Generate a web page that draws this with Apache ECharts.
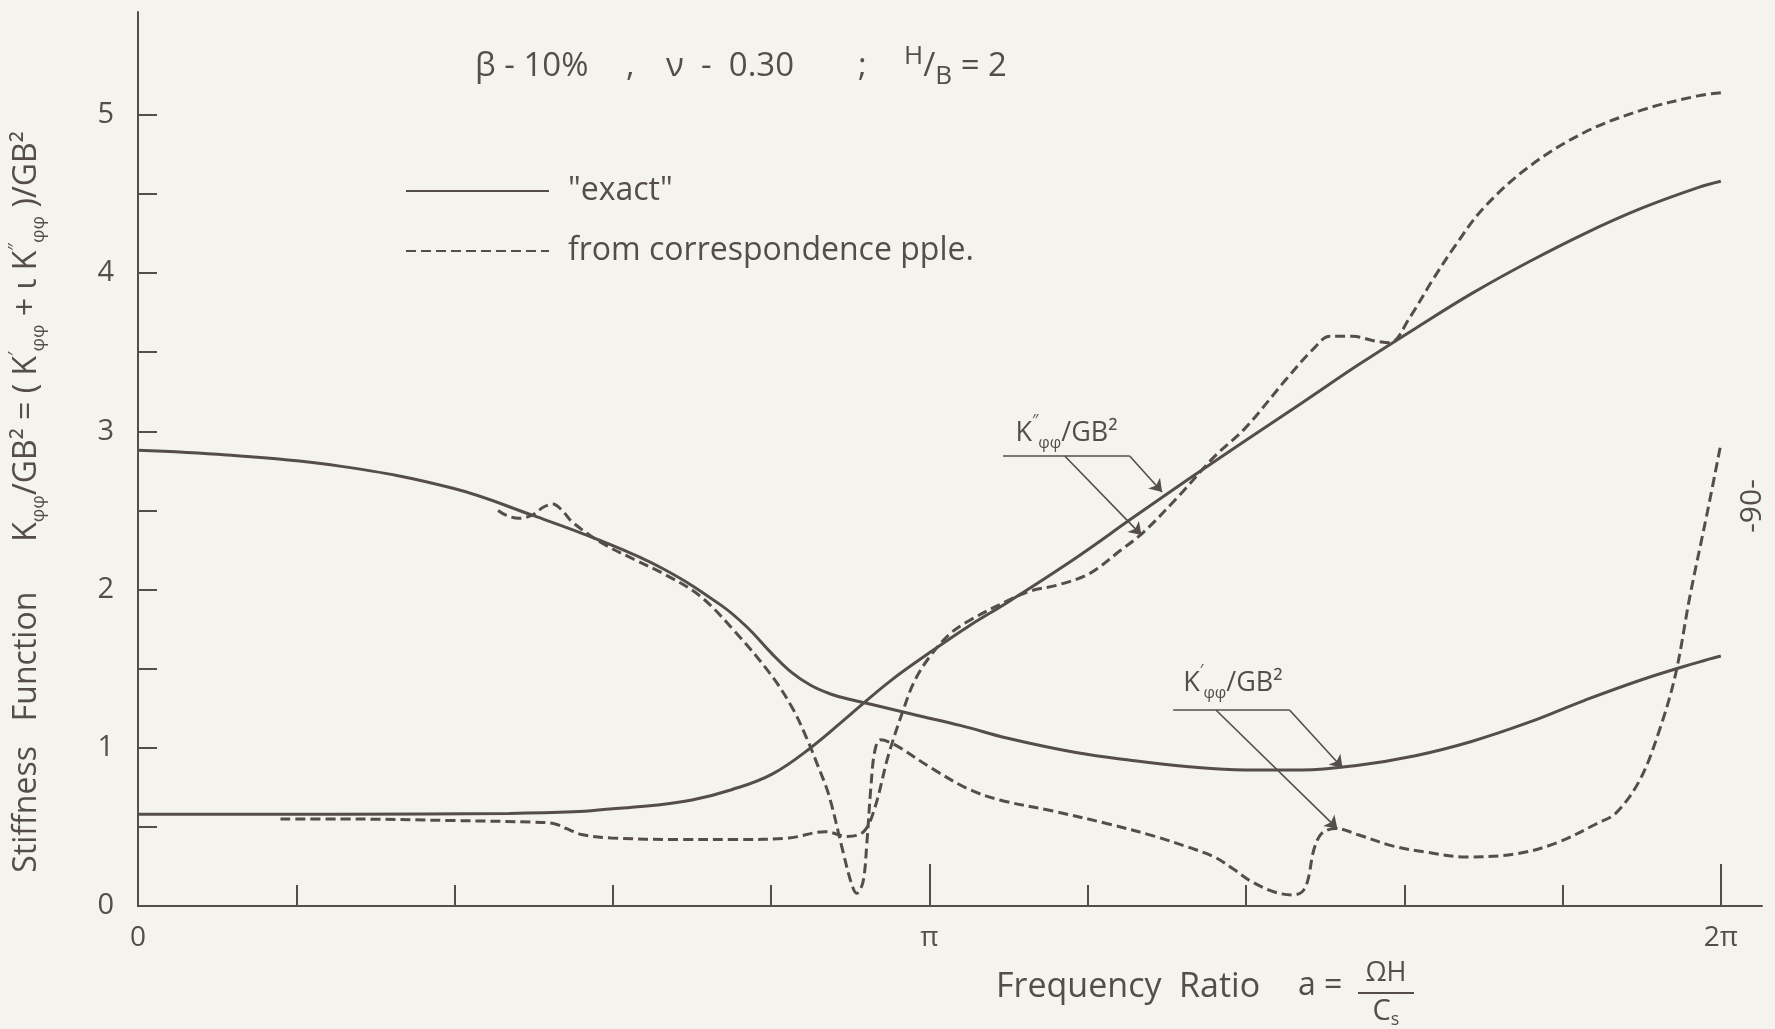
<!DOCTYPE html>
<html>
<head>
<meta charset="utf-8">
<script src="https://cdn.jsdelivr.net/npm/echarts@6/dist/echarts.min.js"></script>
<style>
  html, body { margin: 0; padding: 0; background: #f4f3ee; }
  #chart { width: 1775px; height: 1029px; }
</style>
</head>
<body>
<div id="chart"></div>
<script>
// Rocking stiffness of an embedded foundation, β = 10 %, ν = 0.30, H/B = 2.
// Abscissa: frequency ratio a = ΩH/Cs, stored in multiples of π.

// "exact" solution – real part K'φφ/GB²
const exactReal = [
  [0, 2.88], [0.112, 2.85], [0.255, 2.78], [0.398, 2.64], [0.498, 2.47],
  [0.584, 2.31], [0.664, 2.13], [0.737, 1.90], [0.770, 1.76], [0.800, 1.60],
  [0.825, 1.48], [0.850, 1.395], [0.875, 1.34], [0.900, 1.305], [0.930, 1.27],
  [0.980, 1.21], [1.040, 1.14], [1.099, 1.06], [1.185, 0.97],
  [1.256, 0.92], [1.328, 0.88], [1.399, 0.86], [1.471, 0.86], [1.542, 0.89],
  [1.614, 0.95], [1.685, 1.04], [1.757, 1.16], [1.828, 1.30], [1.900, 1.43],
  [1.971, 1.54], [2.0, 1.58]
];

// "exact" solution – imaginary part K''φφ/GB²
const exactImag = [
  [0, 0.58], [0.255, 0.58], [0.469, 0.585], [0.55, 0.595], [0.60, 0.615],
  [0.65, 0.635], [0.70, 0.67], [0.75, 0.735], [0.80, 0.83], [0.85, 1.00],
  [0.90, 1.21], [0.95, 1.42], [1.00, 1.60], [1.05, 1.77], [1.099, 1.92],
  [1.185, 2.20], [1.256, 2.45], [1.328, 2.70], [1.399, 2.94], [1.471, 3.18],
  [1.542, 3.42], [1.614, 3.65], [1.685, 3.87], [1.757, 4.07], [1.828, 4.25],
  [1.900, 4.41], [1.971, 4.54], [2.0, 4.58]
];

// from the correspondence principle – real part
const corrReal = [
  [0.455, 2.50], [0.465, 2.47], [0.481, 2.45], [0.498, 2.47], [0.512, 2.52],
  [0.524, 2.54], [0.536, 2.50], [0.548, 2.43], [0.584, 2.30], [0.627, 2.19],
  [0.664, 2.10], [0.710, 1.96], [0.755, 1.73], [0.800, 1.46], [0.827, 1.25],
  [0.845, 1.06], [0.858, 0.90], [0.873, 0.70], [0.890, 0.36], [0.901, 0.15],
  [0.908, 0.08], [0.916, 0.15], [0.921, 0.40], [0.926, 0.75], [0.931, 0.98],
  [0.938, 1.05], [0.956, 1.02], [1.003, 0.87], [1.049, 0.74], [1.089, 0.67],
  [1.156, 0.60], [1.225, 0.52], [1.285, 0.44], [1.328, 0.37], [1.360, 0.31],
  [1.385, 0.23], [1.405, 0.16], [1.435, 0.09], [1.459, 0.07], [1.471, 0.09],
  [1.478, 0.16], [1.486, 0.36], [1.496, 0.46], [1.514, 0.49], [1.542, 0.45],
  [1.585, 0.38], [1.628, 0.34], [1.677, 0.31], [1.742, 0.33], [1.793, 0.40],
  [1.843, 0.52], [1.868, 0.59], [1.898, 0.80], [1.923, 1.12], [1.943, 1.47],
  [1.961, 1.96], [1.983, 2.49], [2.0, 2.92]
];

// from the correspondence principle – imaginary part
const corrImag = [
  [0.180, 0.55], [0.255, 0.55], [0.398, 0.54], [0.498, 0.53], [0.526, 0.52],
  [0.541, 0.49], [0.562, 0.45], [0.598, 0.43], [0.684, 0.42], [0.755, 0.42],
  [0.823, 0.43], [0.868, 0.47], [0.896, 0.44], [0.917, 0.47], [0.931, 0.62],
  [0.948, 0.95], [0.967, 1.24], [0.981, 1.42], [1.001, 1.58], [1.026, 1.72],
  [1.049, 1.80], [1.099, 1.93], [1.127, 1.99], [1.163, 2.03], [1.202, 2.10],
  [1.242, 2.25], [1.270, 2.36], [1.313, 2.58], [1.360, 2.84], [1.399, 3.02],
  [1.451, 3.33], [1.485, 3.52], [1.506, 3.60], [1.535, 3.60], [1.564, 3.57],
  [1.582, 3.56], [1.607, 3.72], [1.635, 3.95], [1.664, 4.17], [1.700, 4.41],
  [1.757, 4.67], [1.828, 4.89], [1.900, 5.03], [1.971, 5.12], [2.0, 5.14]
];

// axis ticks and labels
const xMinorTicks = [0.2, 0.4, 0.6, 0.8, 1.2, 1.4, 1.6, 1.8];
const xMajorTicks = [1, 2];
const xLabelValues = [0, 1, 2];
const xLabelText = ['0', 'π', '2π'];
const yTicks = [0.5, 1, 1.5, 2, 2.5, 3, 3.5, 4, 4.5, 5];
const yLabelValues = [0, 1, 2, 3, 4, 5];

// legend entries
const nameExact = '"exact"';
const nameCorr = 'from correspondence pple.';

// leader lines for the curve labels: [from, to, arrow at end?]
const imagLeaders = [
  [[1.093, 2.844], [1.253, 2.844], false],
  [[1.253, 2.844], [1.294, 2.616], true],
  [[1.171, 2.844], [1.268, 2.344], true]
];
const realLeaders = [
  [[1.308, 1.239], [1.455, 1.239], false],
  [[1.455, 1.239], [1.522, 0.872], true],
  [[1.362, 1.239], [1.5155, 0.489], true]
];
const imagLabelAt = [1.108, 2.99];
const realLabelAt = [1.320, 1.41];

const INK = '#554d4b';
const FONT = '"Open Sans", "DejaVu Sans", sans-serif';

const chart = echarts.init(document.getElementById('chart'), null, { renderer: 'canvas' });

function leaderData(list) {
  return list.map(([a, b, arrow]) => [
    { coord: a, symbol: 'none' },
    { coord: b, symbol: arrow ? 'arrow' : 'none' }
  ]);
}

const labelRich = {
  k: { fontSize: 27, lineHeight: 38, verticalAlign: 'middle', color: INK, fontFamily: FONT },
  sup: { fontSize: 16, lineHeight: 38, verticalAlign: 'top', color: INK, fontFamily: FONT },
  sub: { fontSize: 16, lineHeight: 38, verticalAlign: 'bottom', color: INK, fontFamily: FONT }
};

const curveLabel = (at, prime) => ({
  silent: true,
  symbol: 'rect',
  symbolSize: 1,
  itemStyle: { color: 'rgba(0,0,0,0)', borderWidth: 0 },
  label: {
    show: true,
    position: 'right',
    distance: 0,
    color: INK,
    formatter: '{k|K}{sup|' + prime + '}{sub|φφ}{k|/GB²}',
    rich: labelRich
  },
  emphasis: { disabled: true },
  data: [{ coord: at }]
});

const leaderStyle = {
  silent: true,
  symbolSize: 12,
  lineStyle: { color: INK, width: 1.6, type: 'solid' },
  label: { show: false },
  emphasis: { disabled: true }
};

const textRich = {
  sup: { fontSize: 26, lineHeight: 46, verticalAlign: 'top', fill: INK, fontFamily: FONT },
  sub: { fontSize: 26, lineHeight: 46, verticalAlign: 'bottom', fill: INK, fontFamily: FONT }
};

function headerText(left, text) {
  return { type: 'text', left: left, top: 44, silent: true,
           style: { text: text, fontSize: 33, lineHeight: 46, fill: INK, fontFamily: FONT, rich: textRich } };
}

const option = {
  backgroundColor: '#f4f3ee',
  animation: false,
  textStyle: { fontFamily: FONT, color: INK },
  legend: {
    orient: 'vertical',
    left: 400,
    top: 168,
    itemWidth: 143,
    itemHeight: 20,
    itemGap: 24,
    data: [nameExact, nameCorr],
    itemStyle: { color: 'rgba(0,0,0,0)', borderColor: 'rgba(0,0,0,0)', borderWidth: 0 },
    textStyle: { fontSize: 32, color: INK, fontFamily: FONT, lineHeight: 36, padding: [0, 0, 0, 14] },
    selectedMode: false
  },
  grid: { left: 138, right: 13, top: 12, bottom: 123, outerBoundsMode: 'none' },
  xAxis: [
    {
      type: 'value', min: 0, max: 2.052,
      axisLine: { show: true, lineStyle: { color: INK, width: 2 } },
      axisTick: { show: true, inside: true, length: 21, customValues: xMinorTicks,
                  lineStyle: { color: INK, width: 2 } },
      axisLabel: {
        show: true, customValues: xLabelValues, margin: 18,
        fontSize: 28, color: INK, fontFamily: FONT,
        formatter: v => xLabelText[xLabelValues.indexOf(Math.round(v))]
      },
      splitLine: { show: false }
    },
    {
      type: 'value', min: 0, max: 2.052, position: 'bottom',
      axisLine: { show: false },
      axisTick: { show: true, inside: true, length: 42, customValues: xMajorTicks,
                  lineStyle: { color: INK, width: 2 } },
      axisLabel: { show: false },
      splitLine: { show: false }
    }
  ],
  yAxis: {
    type: 'value', min: 0, max: 5.65,
    name: 'Stiffness   Function      {n|K}{sub|φφ}/GB² = ( K{sup|′}{sub|φφ} + ι K{sup|″}{sub|φφ} )/GB²',
    nameLocation: 'middle',
    nameGap: 90,
    nameRotate: 90,
    nameTextStyle: {
      fontSize: 32, color: INK, fontFamily: FONT, lineHeight: 42,
      padding: [0, 86, 0, 0],
      rich: {
        n: { fontSize: 32, lineHeight: 42, color: INK, fontFamily: FONT },
        sub: { fontSize: 19, lineHeight: 42, verticalAlign: 'bottom', color: INK, fontFamily: FONT },
        sup: { fontSize: 19, lineHeight: 42, verticalAlign: 'top', color: INK, fontFamily: FONT }
      }
    },
    axisLine: { show: true, lineStyle: { color: INK, width: 2 } },
    axisTick: { show: true, inside: true, length: 19, customValues: yTicks,
                lineStyle: { color: INK, width: 2 } },
    axisLabel: { show: true, customValues: yLabelValues, margin: 24,
                 fontSize: 29, color: INK, fontFamily: FONT },
    splitLine: { show: false }
  },
  series: [
    {
      name: nameExact, type: 'line', data: exactReal, smooth: 0.4,
      showSymbol: false, symbol: 'none',
      lineStyle: { color: INK, width: 3, type: 'solid' },
      itemStyle: { color: INK },
      markLine: Object.assign({ data: leaderData(realLeaders) }, leaderStyle),
      markPoint: curveLabel(realLabelAt, '′')
    },
    {
      name: nameExact, type: 'line', data: exactImag, smooth: 0.4,
      showSymbol: false, symbol: 'none',
      lineStyle: { color: INK, width: 3, type: 'solid' },
      itemStyle: { color: INK },
      markLine: Object.assign({ data: leaderData(imagLeaders) }, leaderStyle),
      markPoint: curveLabel(imagLabelAt, '″')
    },
    {
      name: nameCorr, type: 'line', data: corrReal, smooth: 0.35,
      showSymbol: false, symbol: 'none',
      lineStyle: { color: INK, width: 3, type: [10, 5] },
      itemStyle: { color: INK }
    },
    {
      name: nameCorr, type: 'line', data: corrImag, smooth: 0.35,
      showSymbol: false, symbol: 'none',
      lineStyle: { color: INK, width: 3, type: [10, 5] },
      itemStyle: { color: INK }
    }
  ],
  graphic: [
    // parameters of the case shown
    headerText(475, 'β - 10%'),
    headerText(626, ','),
    headerText(666, 'ν  -  0.30'),
    headerText(858, ';'),
    headerText(904, '{sup|H}/{sub|B} = 2'),
    // abscissa title with the fraction ΩH / Cs
    { type: 'text', left: 996, top: 970, silent: true,
      style: { text: 'Frequency  Ratio', fontSize: 34, fill: INK, fontFamily: FONT } },
    { type: 'text', left: 1298, top: 970, silent: true,
      style: { text: 'a =', fontSize: 32, fill: INK, fontFamily: FONT } },
    { type: 'text', x: 1386, y: 973, silent: true,
      style: { text: 'ΩH', fontSize: 27, fill: INK, fontFamily: FONT, align: 'center', verticalAlign: 'middle' } },
    { type: 'line', silent: true,
      shape: { x1: 1358, y1: 993, x2: 1414, y2: 993 },
      style: { stroke: INK, lineWidth: 2 } },
    { type: 'text', x: 1386, y: 1012, silent: true,
      style: { text: '{c|C}{s|s}', fill: INK, fontFamily: FONT, align: 'center', verticalAlign: 'middle',
               rich: { c: { fontSize: 29, lineHeight: 34, fill: INK, fontFamily: FONT },
                       s: { fontSize: 18, lineHeight: 34, verticalAlign: 'bottom', fill: INK, fontFamily: FONT } } } },
    // page number along the right edge, reading bottom to top
    { type: 'text', x: 1752, y: 506, rotation: Math.PI / 2, silent: true,
      style: { text: '-90-', fontSize: 30, fill: INK, fontFamily: FONT, align: 'center', verticalAlign: 'middle' } }
  ]
};

chart.setOption(option);
</script>
</body>
</html>
